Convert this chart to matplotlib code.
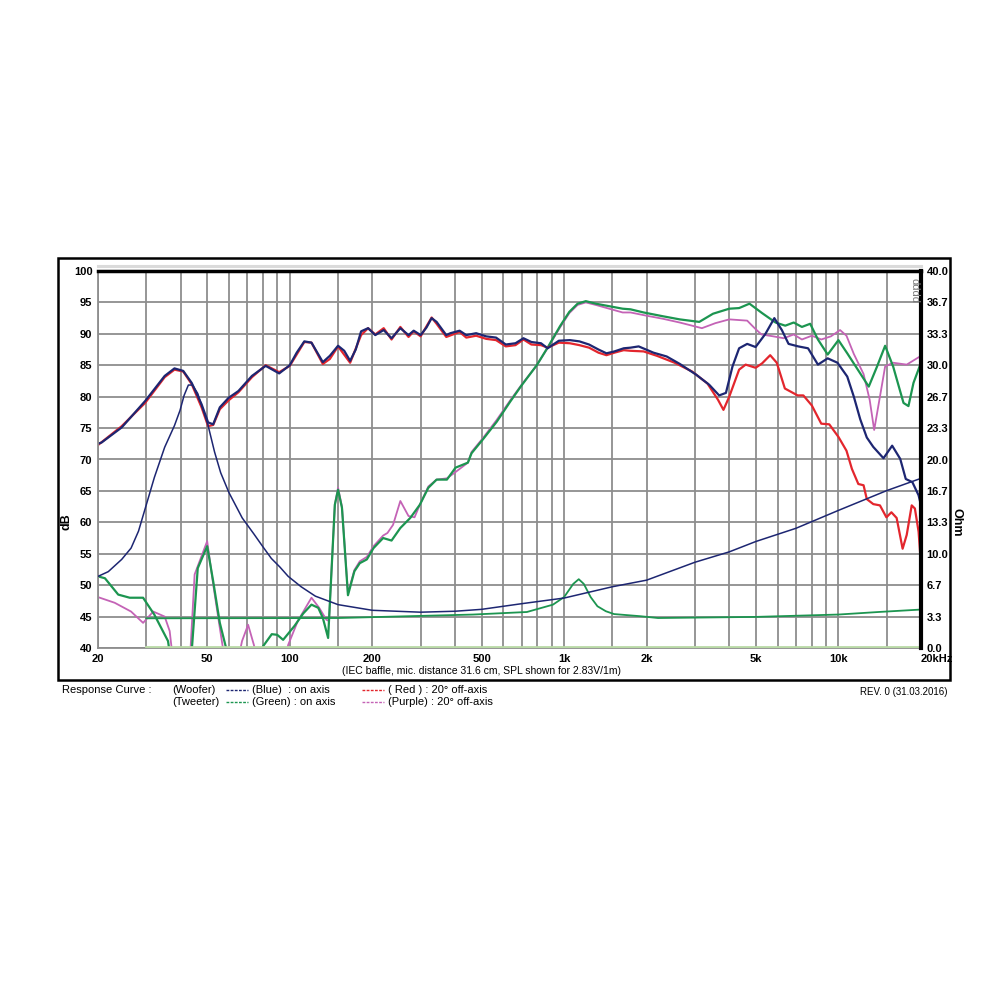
import numpy as np
import matplotlib
matplotlib.use('Agg')
import matplotlib.pyplot as plt
from matplotlib.lines import Line2D
from matplotlib.patches import Rectangle
from matplotlib.ticker import FixedLocator, NullFormatter

plt.rcParams['font.family'] = ['Liberation Sans', 'DejaVu Sans']

# woofer on axis (blue), SPL in dB
f_blue = [20, 20.6, 24.4, 29.7, 35, 38, 40.9, 43.9, 47.7, 50.4, 52.6, 55.6, 59.8, 65, 72.8, 81.7,
          91.5, 100, 106, 113, 120, 132, 140, 150, 158, 166, 174, 182, 193, 205, 220, 235, 253,
          271, 283, 300, 315, 329, 343, 372, 385, 416, 440, 478, 520, 565, 613, 665, 711, 760,
          824, 871, 957, 1050, 1137, 1233, 1335, 1427, 1525, 1650, 1747, 1870, 2118, 2365, 2644,
          3030, 3380, 3675, 3890, 4110, 4345, 4650, 4990, 5420, 5840, 6220, 6580, 7140, 7750,
          8420, 9140, 9920, 10770, 11380, 12010, 12690, 13400, 14600, 15700, 16800, 17600,
          18600, 19600, 20000]
db_blue = [72.5, 72.7, 75.1, 79.3, 83.3, 84.5, 84.1, 82.2, 78.8, 75.9, 75.6, 78.3, 79.8, 80.9, 83.3, 84.9,
           83.7, 85.0, 87.0, 88.8, 88.6, 85.5, 86.5, 88.1, 87.3, 85.7, 87.5, 90.4, 90.9, 89.8, 90.6, 89.3, 90.9,
           89.8, 90.5, 89.8, 91.0, 92.5, 91.9, 89.8, 90.1, 90.5, 89.8, 90.1, 89.6, 89.4, 88.3, 88.5, 89.3, 88.7,
           88.5, 87.7, 88.9, 89.0, 88.8, 88.3, 87.5, 86.9, 87.2, 87.7, 87.8, 88.0, 87.0, 86.4, 85.2,
           83.5, 81.9, 80.2, 80.6, 84.8, 87.7, 88.4, 87.9, 90.0, 92.5, 90.6, 88.4, 88.0, 87.7,
           85.1, 86.1, 85.4, 83.2, 80.0, 76.4, 73.5, 72.0, 70.2, 72.2, 70.1, 66.9,
           66.4, 64.3, 62.7]

# woofer 20 deg off axis (red)
f_red = [20, 24.4, 29.7, 35, 38, 40.9, 43.9, 47.7, 50.4, 52.6, 55.6, 59.8, 65, 72.8, 81.7, 91.5, 100,
         113, 120, 132, 140, 150, 166, 182, 193, 205, 220, 235, 253, 271, 283, 300, 329, 343, 372,
         416, 440, 478, 520, 565, 613, 665, 711, 760, 824, 871, 957, 1050, 1137, 1233, 1335, 1427,
         1525, 1650, 1747, 1950, 2180, 2530, 2930, 3330, 3640, 3810, 4000, 4345, 4590, 4990, 5270,
         5640, 5960, 6380, 7100, 7450, 8000, 8660, 9260, 10000, 10700, 11200, 11820, 12350, 12690,
         13400, 14170, 14960, 15600, 16300, 17140, 17740, 18500, 19000, 19600, 20000]
db_red = [72.3, 75.3, 79.0, 83.1, 84.3, 84.0, 82.0, 78.3, 75.3, 75.5, 78.0, 79.4, 80.7, 83.1, 85.0, 83.9, 84.9,
          88.7, 88.6, 85.2, 86.0, 88.0, 85.4, 89.8, 90.9, 89.9, 90.9, 89.1, 91.1, 89.5, 90.4, 89.6, 92.6, 91.6, 89.5,
          90.3, 89.4, 89.7, 89.2, 89.0, 88.0, 88.2, 89.1, 88.3, 88.2, 87.8, 88.6, 88.5, 88.2, 87.8, 87.0, 86.6,
          87.0, 87.4, 87.3, 87.2, 86.5, 85.4, 84.0, 82.1, 79.5, 77.9, 80.0, 84.3, 85.1, 84.6, 85.3,
          86.6, 85.4, 81.3, 80.2, 80.2, 78.6, 75.7, 75.6, 73.6, 71.4, 68.5, 66.1, 65.9, 63.7,
          62.9, 62.7, 60.8, 61.6, 60.7, 55.8, 58.0, 62.7, 62.2, 58.5, 53.2]

# tweeter on axis (green)
f_green = [20, 21.2, 23.7, 26.1, 29.2, 32.1, 36, 38, 43, 46.2, 50, 52.6, 55.6, 59, 68, 80, 86, 90, 94.6,
           104, 112, 120, 127, 132, 138, 146, 150, 155, 163, 172, 180, 191, 202, 219, 235, 253, 275,
           298, 320, 343, 374, 402, 446, 460, 508, 568, 636, 700, 795, 876, 966, 1045, 1120, 1200,
           1305, 1460, 1635, 1747, 1950, 2290, 2640, 3110, 3490, 4000, 4345, 4740, 5270, 5900,
           6400, 6870, 7360, 7890, 8420, 9140, 10000, 10770, 12010, 12900, 13830, 14800, 15830,
           17270, 18000, 18780, 20000]
db_green = [51.4, 51.1, 48.5, 48.0, 48.0, 45.3, 41.1, 34, 34, 52.7, 56.2, 50.6, 44.0, 39.5, 33, 40.3, 42.2, 42.1, 41.3,
            43.5, 45.5, 46.9, 46.4, 44.8, 41.6, 62.8, 65.2, 62.3, 48.4, 52.2, 53.5, 54.1, 55.9, 57.5, 57.1, 59.1, 60.7,
            62.8, 65.5, 66.8, 66.8, 68.7, 69.5, 71.0, 73.3, 76.0, 79.2, 81.8, 85.0, 88.0, 91.2, 93.5, 94.8, 95.2,
            94.8, 94.4, 94.0, 93.9, 93.4, 92.8, 92.3, 91.9, 93.2, 94.0, 94.1, 94.8, 93.3, 91.8,
            91.3, 91.8, 91.1, 91.6, 89.1, 86.7, 89.0, 86.9, 83.7, 81.6, 84.8, 88.1, 84.8,
            79.0, 78.5, 82.2, 85.4]

# tweeter 20 deg off axis (purple)
f_purple = [20, 23, 26.4, 29.2, 31.8, 35, 36.5, 38, 43, 45, 50, 52.6, 55.6, 58, 64, 67, 70.5, 74, 78, 95,
            98.7, 107, 120, 128, 136, 139, 146, 150, 155, 163, 172, 180, 191, 202, 219, 227, 238, 253,
            271, 285, 298, 320, 343, 374, 402, 446, 460, 508, 568, 636, 700, 795, 876, 966, 1045, 1120,
            1200, 1305, 1460, 1635, 1747, 1990, 2290, 2640, 3180, 3560, 4000, 4650, 4950, 5240, 5790,
            6320, 6870, 7360, 8000, 8660, 9390, 10140, 10700, 11380, 12350, 13000, 13500, 14170, 14800,
            15830, 17740, 20000]
db_purple = [48.1, 47.2, 45.8, 44.0, 45.8, 45.0, 42.7, 36, 36, 51.7, 57.0, 50.1, 43.2, 38, 37, 41.1, 43.7, 40.5, 36, 37,
             40.5, 44.3, 48.0, 46.4, 44.5, 44.3, 62.8, 65.5, 62.5, 48.7, 52.4, 53.8, 54.5, 56.2, 57.9, 58.3, 59.6, 63.4,
             61.0, 60.8, 62.8, 65.7, 66.8, 67.0, 68.0, 69.5, 71.2, 73.5, 76.3, 79.4, 81.9, 85.0, 87.9, 91.0, 93.3, 94.6,
             95.0, 94.6, 94.0, 93.4, 93.4, 92.9, 92.4, 91.8, 90.9, 91.7, 92.3, 92.1, 90.9, 89.9, 89.6,
             89.3, 89.9, 89.1, 89.7, 89.1, 89.6, 90.6, 89.7, 86.8, 83.6, 79.5, 74.7, 80.0, 84.8,
             85.4, 85.1, 86.5]

# impedance curves (Ohm, right axis)
f_zw = [20, 21.8, 24.4, 26.4, 28.1, 30, 32.1, 35, 38, 39.8, 41.2, 42.7, 44.2, 46.2, 48, 50.3, 53.2, 56, 60,
        67.1, 74, 80, 85.7, 92, 98.7, 110, 124, 150, 200, 300, 400, 500, 700, 1000, 1500, 2000, 3000,
        4000, 5000, 7000, 10000, 15000, 20000]
z_woofer = [7.6, 8.1, 9.4, 10.6, 12.4, 15.2, 18.1, 21.3, 23.6, 25.2, 26.8, 27.9, 27.9, 27.0, 25.5, 23.7, 20.8, 18.6, 16.5,
            13.8, 12.1, 10.7, 9.5, 8.6, 7.6, 6.5, 5.5, 4.6, 4.0, 3.8, 3.9, 4.1, 4.7, 5.3, 6.5, 7.2, 9.1,
            10.2, 11.3, 12.7, 14.6, 16.7, 18.0]
f_zt = [30, 150, 466, 732, 911, 1000, 1080, 1131, 1180, 1250, 1323, 1420, 1521, 1901, 2200, 5000, 10000, 14000, 20000]
z_tweeter = [3.15, 3.18, 3.55, 3.82, 4.6, 5.4, 6.8, 7.3, 6.8, 5.4, 4.43, 3.9, 3.6, 3.37, 3.18, 3.3, 3.55, 3.82, 4.08]
f_base = [30, 20000]
z_base = [0.12, 0.12]

grid_f = [20, 30, 40, 50, 60, 70, 80, 90, 100, 150, 200, 300, 400, 500, 600, 700, 800, 900, 1000,
          1500, 2000, 3000, 4000, 5000, 6000, 7000, 8000, 9000, 10000, 15000, 20000]
tick_f = [20, 50, 100, 200, 500, 1000, 2000, 5000, 10000, 20000]
tick_lab = ['20', '50', '100', '200', '500', '1k', '2k', '5k', '10k', '20kHz']

c_blue = '#1d2672'
c_red = '#e3262d'
c_green = '#1c9550'
c_purple = '#c463b6'
c_grid = '#8e8e8e'

fig = plt.figure(figsize=(10, 10), dpi=100)
ax = fig.add_axes([0.098, 0.352, 0.823, 0.377])
ax.set_xscale('log')
ax.set_xlim(20, 20000)
ax.set_ylim(40, 100)
ax.set_yticks(np.arange(40, 101, 5))
ax.xaxis.set_major_locator(FixedLocator(tick_f))
ax.set_xticklabels(tick_lab)
ax.xaxis.set_minor_locator(FixedLocator(grid_f))
ax.xaxis.set_minor_formatter(NullFormatter())
ax.grid(True, which='both', color=c_grid, lw=1.3)
ax.tick_params(which='both', length=0, labelsize=8, pad=4)
for lab in ax.get_xticklabels() + ax.get_yticklabels():
    lab.set_fontweight('bold')
ax.get_xticklabels()[-1].set_ha('left')
for s in ['left', 'bottom']:
    ax.spines[s].set_color(c_grid)
    ax.spines[s].set_linewidth(1.3)
ax.spines['top'].set_linewidth(2.5)
ax.spines['right'].set_visible(False)
fig.text(0.066, 0.478, 'dB', rotation=90, fontsize=9, fontweight='bold', va='center', ha='center')

# SPL curves
ax.plot(f_purple, db_purple, c=c_purple, lw=1.3)
ax.plot(f_green, db_green, c=c_green, lw=1.6)
ax.plot(f_red, db_red, c=c_red, lw=1.6)
ax.plot(f_blue, db_blue, c=c_blue, lw=1.6)

# impedance on right axis
ax2 = ax.twinx()
ax2.set_ylim(0, 40)
ax2.set_yticks(np.linspace(0, 40, 13))
ax2.set_yticklabels(['%.1f' % v for v in np.linspace(0, 40, 13)])
ax2.tick_params(length=0, labelsize=8, pad=4)
for lab in ax2.get_yticklabels():
    lab.set_fontweight('bold')
for s in ['left', 'bottom', 'top']:
    ax2.spines[s].set_visible(False)
ax2.spines['right'].set_linewidth(3)
ax2.plot(f_base, z_base, c='#b9d9a6', lw=2)
ax2.plot(f_zt, z_tweeter, c=c_green, lw=1.3)
ax2.plot(f_zw, z_woofer, c=c_blue, lw=1.1)
fig.text(0.957, 0.478, 'Ohm', rotation=270, fontsize=9, fontweight='bold', va='center', ha='center')
fig.text(0.914, 0.709, 'dddd', rotation=270, fontsize=8, color='#777777', ha='center', va='center')

# frame and the light line over the plot
fig.patches.append(Rectangle((0.058, 0.320), 0.892, 0.422, fill=False, lw=1.8, ec='black',
                             transform=fig.transFigure, figure=fig))
fig.lines.append(Line2D([0.098, 0.921], [0.734, 0.734], lw=2.2, c='#dadada', transform=fig.transFigure))

fig.text(0.481, 0.329, '(IEC baffle, mic. distance 31.6 cm, SPL shown for 2.83V/1m)',
         fontsize=7.5, ha='center', va='center')

# legend below the frame
ly1, ly2 = 0.310, 0.298
fig.text(0.062, ly1, 'Response Curve :', fontsize=8, va='center')
fig.text(0.172, ly1, '(Woofer)', fontsize=8, va='center')
fig.text(0.172, ly2, '(Tweeter)', fontsize=8, va='center')
for x0, y0, col, txt in [(0.226, ly1, c_blue, '(Blue)  : on axis'),
                         (0.226, ly2, c_green, '(Green) : on axis'),
                         (0.362, ly1, c_red, '( Red ) : 20\u00b0 off-axis'),
                         (0.362, ly2, c_purple, '(Purple) : 20\u00b0 off-axis')]:
    fig.lines.append(Line2D([x0, x0 + 0.022], [y0, y0], lw=1, c=col, ls=(0, (2, 1)),
                            transform=fig.transFigure))
    fig.text(x0 + 0.026, y0, txt, fontsize=8, va='center')
fig.text(0.948, 0.308, 'REV. 0 (31.03.2016)', fontsize=7, ha='right', va='center')

fig.savefig('out.png', dpi=100, facecolor='white')
